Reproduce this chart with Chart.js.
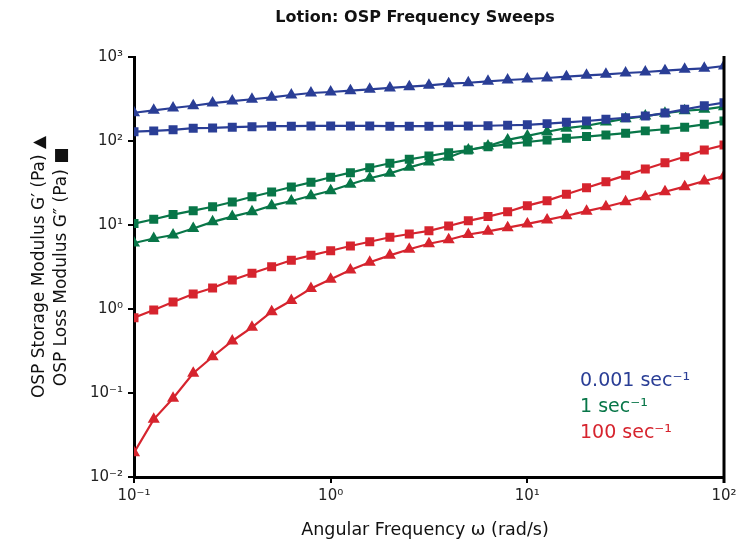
<!DOCTYPE html>
<html>
<head>
<meta charset="utf-8">
<script src="https://cdn.jsdelivr.net/npm/chart.js@4"></script>
<style>
  body { margin: 0; background: #fff; }
  #wrap { width: 748px; height: 545px; }
</style>
</head>
<body>
<div id="wrap"><canvas id="sweepChart" width="748" height="545"></canvas></div>
<script>
// angular frequency (rad/s), 10 points per decade
const freq = [0.1, 0.126, 0.158, 0.2, 0.251, 0.316, 0.398, 0.501, 0.631, 0.794,
  1, 1.26, 1.58, 2, 2.51, 3.16, 3.98, 5.01, 6.31, 7.94,
  10, 12.6, 15.8, 20, 25.1, 31.6, 39.8, 50.1, 63.1, 79.4, 100];

// 0.001 sec-1
const blueStorage = [217, 232, 247, 263, 283, 299, 314, 331, 353, 373, 383, 397, 412, 428, 443, 460, 481, 494, 514, 532, 547, 562, 583, 605, 622, 645, 663, 687, 714, 733, 781];
const blueLoss = [129, 132, 136, 142, 143, 146, 148, 150, 150, 151, 151, 151, 151, 150, 150, 150, 151, 151, 152, 154, 156, 161, 167, 173, 181, 189, 198, 215, 238, 263, 286];
// 1 sec-1
const greenStorage = [6.1, 6.9, 7.6, 9.1, 10.9, 12.6, 14.4, 17.0, 19.3, 22.3, 25.6, 30.5, 36.0, 41.2, 48.6, 56.2, 64.0, 78.2, 87.1, 103, 115, 129, 142, 152, 168, 184, 198, 214, 229, 238, 256];
const greenLoss = [10.4, 11.7, 13.3, 14.8, 16.5, 18.8, 21.7, 24.7, 28.3, 32.2, 37.0, 42.0, 48.1, 54.3, 60.5, 66.3, 72.6, 78.2, 85.5, 92.0, 97.3, 103, 108, 113, 118, 124, 132, 138, 146, 158, 173];
// 100 sec-1
const redStorage = [0.0195, 0.0486, 0.0865, 0.172, 0.270, 0.416, 0.605, 0.929, 1.26, 1.75, 2.26, 2.91, 3.60, 4.35, 5.14, 5.99, 6.68, 7.71, 8.41, 9.29, 10.3, 11.5, 12.9, 14.6, 16.5, 18.9, 21.7, 24.9, 28.6, 33.4, 38.3];
const redLoss = [0.787, 0.973, 1.21, 1.51, 1.78, 2.21, 2.66, 3.19, 3.80, 4.35, 4.94, 5.62, 6.32, 7.14, 7.81, 8.53, 9.73, 11.2, 12.6, 14.4, 17.0, 19.5, 23.2, 27.8, 32.8, 39.0, 46.4, 55.2, 65.0, 78.2, 89.6];

const xTickVals = [0.1, 1, 10, 100];
const xTickLabels = ['10⁻¹', '10⁰', '10¹', '10²'];
const yTickVals = [0.01, 0.1, 1, 10, 100, 1000];
const yTickLabels = ['10⁻²', '10⁻¹', '10⁰', '10¹', '10²', '10³'];

const legendLabels = ['0.001 sec⁻¹', '1 sec⁻¹', '100 sec⁻¹'];

const BLUE = 'rgb(42, 62, 150)';
const GREEN = 'rgb(8, 118, 72)';
const RED = 'rgb(214, 36, 46)';
const FONT = '"DejaVu Sans", sans-serif';

function series(vals, color, style) {
  return {
    data: vals.map((v, i) => ({ x: freq[i], y: v })),
    showLine: true,
    borderColor: color,
    backgroundColor: color,
    borderWidth: 2.2,
    pointStyle: style,
    pointRadius: 4.8,
    pointHoverRadius: 4.8,
    tension: 0
  };
}

// title, axis titles, legend text and right frame line
const extras = {
  id: 'extras',
  afterDraw(chart) {
    const ctx = chart.ctx;
    const a = chart.chartArea;
    ctx.save();
    ctx.strokeStyle = '#000';
    ctx.lineWidth = 3;
    ctx.beginPath();
    ctx.moveTo(a.right, a.top - 1);
    ctx.lineTo(a.right, a.bottom + 6);
    ctx.stroke();

    ctx.fillStyle = '#111';
    ctx.textAlign = 'center';
    ctx.textBaseline = 'middle';
    ctx.font = 'bold 16px ' + FONT;
    ctx.fillText('Lotion: OSP Frequency Sweeps', 415, 18);

    ctx.font = '17.5px ' + FONT;
    ctx.fillText('Angular Frequency ω (rad/s)', 425, 530);

    ctx.font = '17px ' + FONT;
    ctx.translate(0, (a.top + a.bottom) / 2);
    ctx.rotate(-Math.PI / 2);
    ctx.fillText('OSP Storage Modulus G′ (Pa) ▲', 0, 40);
    ctx.fillText('OSP Loss Modulus G″ (Pa) ■', 0, 62);
    ctx.restore();

    ctx.save();
    ctx.font = '19px ' + FONT;
    ctx.textAlign = 'left';
    ctx.textBaseline = 'middle';
    [BLUE, GREEN, RED].forEach((c, i) => {
      ctx.fillStyle = c;
      ctx.fillText(legendLabels[i], 580, 381 + i * 26);
    });
    ctx.restore();
  }
};

const ctx = document.getElementById('sweepChart').getContext('2d');
new Chart(ctx, {
  type: 'scatter',
  data: {
    datasets: [
      series(blueStorage, BLUE, 'triangle'),
      series(blueLoss, BLUE, 'rect'),
      series(greenStorage, GREEN, 'triangle'),
      series(greenLoss, GREEN, 'rect'),
      series(redLoss, RED, 'rect'),
      series(redStorage, RED, 'triangle')
    ]
  },
  options: {
    responsive: false,
    animation: false,
    layout: { padding: { top: 57, right: 24, left: 0, bottom: 0 } },
    plugins: { legend: { display: false }, tooltip: { enabled: false } },
    scales: {
      x: {
        type: 'logarithmic',
        min: 0.1,
        max: 100,
        afterBuildTicks: s => { s.ticks = xTickVals.map(v => ({ value: v })); },
        afterFit: s => { s.height = 68; },
        border: { color: '#000', width: 3 },
        grid: { drawOnChartArea: false, drawTicks: true, tickLength: 6, color: '#000', lineWidth: 2 },
        ticks: {
          autoSkip: false, maxRotation: 0, color: '#222', padding: 4,
          font: { family: FONT, size: 15 },
          callback: (v, i) => xTickLabels[i]
        }
      },
      y: {
        type: 'logarithmic',
        min: 0.01,
        max: 1000,
        afterBuildTicks: s => { s.ticks = yTickVals.map(v => ({ value: v })); },
        afterFit: s => { s.width = 134; },
        border: { color: '#000', width: 3 },
        grid: { drawOnChartArea: false, drawTicks: true, tickLength: 6, color: '#000', lineWidth: 2 },
        ticks: {
          autoSkip: false, color: '#222', padding: 5,
          font: { family: FONT, size: 15 },
          callback: (v, i) => yTickLabels[i]
        }
      }
    }
  },
  plugins: [extras]
});
</script>
</body>
</html>
